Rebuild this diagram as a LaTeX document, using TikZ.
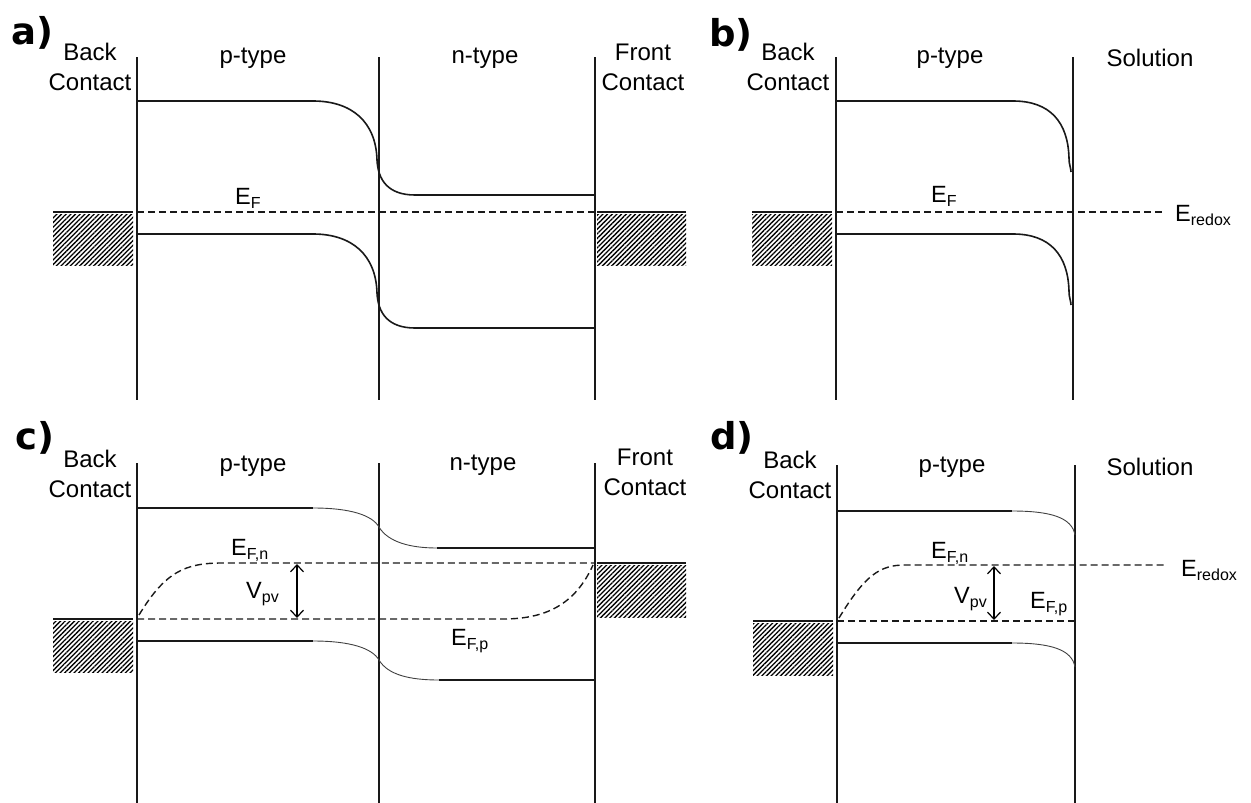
\documentclass[tikz,border=0pt]{standalone}
\usepackage{fontspec}
\setmainfont{Liberation Sans}
\newfontfamily\panelfont{DejaVu Sans}
\usetikzlibrary{positioning,arrows.meta,patterns.meta}

% lowered subscript for the level labels
\newcommand{\esub}[1]{\raisebox{-4pt}{\fontsize{16}{16}\selectfont #1}}

\tikzset{
    wallline/.style={line width=1.6pt, black!90},
    bandline/.style={line width=1.6pt, black!90},
    bandbend/.style={line width=0.9pt, black!75},
    fermiline/.style={line width=1.4pt, black!90, dash pattern=on 7pt off 4pt},
    metalbox/.style={pattern={Lines[angle=45,distance=3.3pt,line width=1.3pt]}},
    regionlbl/.style={font=\fontsize{24}{30}\selectfont, inner sep=0pt, anchor=base},
    levellbl/.style={font=\fontsize{23.5}{26}\selectfont, inner sep=0pt, anchor=base west},
    panellbl/.style={font=\panelfont\bfseries\fontsize{37}{37}\selectfont, inner sep=0pt, anchor=base west},
    vpvarrow/.style={{Straight Barb[length=7pt,width=13pt]}-{Straight Barb[length=7pt,width=13pt]}, line width=1.2pt},
}

\begin{document}
\begin{tikzpicture}[x=1pt, y=-1pt]
    \useasboundingbox (0,0) rectangle (1251,803);

    % a) p-n junction in the dark
    \node[panellbl] (pa) at (11,44) {a)};
    \node[regionlbl] (backa) at (90,60) {Back};
    \node[regionlbl] (backa2) at (90,90) {Contact};
    \node[regionlbl] (pa1) at (253,63) {p-type};
    \node[regionlbl] (na1) at (485,63) {n-type};
    \node[regionlbl] (fronta) at (643,60) {Front};
    \node[regionlbl] (fronta2) at (643,90) {Contact};

    \draw[wallline] (137,57) -- (137,400);
    \draw[wallline] (379,57) -- (379,400);
    \draw[wallline] (595,57) -- (595,400);

    % conduction and valence band
    \draw[bandline] (137,101) -- (313,101) .. controls (352,101) and (376,122) .. (377,160)
        .. controls (378,180) and (388,195) .. (415,195) -- (595,195);
    \draw[bandline] (137,234) -- (313,234) .. controls (352,234) and (376,255) .. (377,293)
        .. controls (378,313) and (388,328) .. (415,328) -- (595,328);

    \draw[fermiline] (137,212) -- (595,212);
    \node[levellbl] (efa) at (235,204) {E\esub{F}};

    % contacts
    \fill[metalbox] (53,214) rectangle (133,265);
    \draw[bandline] (53,212) -- (133,212);
    \fill[metalbox] (597,214) rectangle (686,265);
    \draw[bandline] (597,212) -- (686,212);

    % b) p-type electrode in solution
    \node[panellbl] (pb) at (709,46) {b)};
    \node[regionlbl] (backb) at (788,60) {Back};
    \node[regionlbl] (backb2) at (788,90) {Contact};
    \node[regionlbl] (pb1) at (950,63) {p-type};
    \node[regionlbl] (solb) at (1150,66) {Solution};

    \draw[wallline] (836,57) -- (836,400);
    \draw[wallline] (1073,57) -- (1073,400);

    \draw[bandline] (836,101) -- (1013,101) .. controls (1050,101) and (1068,122) .. (1069,158)
        .. controls (1069,165) and (1071,168) .. (1071,172);
    \draw[bandline] (836,234) -- (1013,234) .. controls (1050,234) and (1068,255) .. (1069,291)
        .. controls (1069,298) and (1071,301) .. (1071,305);

    \draw[fermiline] (836,212) -- (1165,212);
    \node[levellbl] (efb) at (931,202) {E\esub{F}};
    \node[levellbl] (redb) at (1175,221) {E\esub{redox}};

    \fill[metalbox] (752,214) rectangle (832,265);
    \draw[bandline] (752,212) -- (832,212);

    % c) p-n junction under illumination
    \node[panellbl] (pc) at (15,449) {c)};
    \node[regionlbl] (backc) at (90,467) {Back};
    \node[regionlbl] (backc2) at (90,497) {Contact};
    \node[regionlbl] (pc1) at (253,471) {p-type};
    \node[regionlbl] (nc1) at (483,470) {n-type};
    \node[regionlbl] (frontc) at (645,465) {Front};
    \node[regionlbl] (frontc2) at (645,495) {Contact};

    \draw[wallline] (137,463) -- (137,803);
    \draw[wallline] (379,463) -- (379,803);
    \draw[wallline] (595,463) -- (595,803);

    \draw[bandline] (137,508) -- (313,508);
    \draw[bandbend] (313,508) .. controls (350,508) and (372,515) .. (379,527)
        .. controls (388,542) and (410,548) .. (437,548);
    \draw[bandline] (437,548) -- (595,548);
    \draw[bandline] (137,641) -- (313,641);
    \draw[bandbend] (313,641) .. controls (350,641) and (372,648) .. (379,660)
        .. controls (388,675) and (410,680) .. (439,680);
    \draw[bandline] (439,680) -- (595,680);

    % quasi Fermi levels
    \draw[fermiline] (139,615) .. controls (165,572) and (185,563) .. (222,563) -- (595,563);
    \draw[fermiline] (137,619) -- (503,619) .. controls (545,619) and (575,605) .. (593,565);
    \node[levellbl] (efnc) at (231,555) {E\esub{F,n}};
    \node[levellbl] (efpc) at (451,645) {E\esub{F,p}};

    \coordinate (vtopc) at (297,564);
    \coordinate (vbotc) at (297,618);
    \draw[vpvarrow] (vtopc) -- (vbotc);
    \node[levellbl] (vpvc) at (246,598) {V\esub{pv}};

    \fill[metalbox] (53,621) rectangle (133,672);
    \draw[bandline] (53,619) -- (133,619);
    \fill[metalbox] (597,565) rectangle (686,617);
    \draw[bandline] (597,563) -- (686,563);

    % d) illuminated p-type electrode in solution
    \node[panellbl] (pd) at (710,449) {d)};
    \node[regionlbl] (backd) at (790,468) {Back};
    \node[regionlbl] (backd2) at (790,498) {Contact};
    \node[regionlbl] (pd1) at (952,472) {p-type};
    \node[regionlbl] (sold) at (1150,475) {Solution};

    \draw[wallline] (837,465) -- (837,803);
    \draw[wallline] (1075,465) -- (1075,803);

    \draw[bandline] (837,511) -- (1012,511);
    \draw[bandbend] (1012,511) .. controls (1052,511) and (1072,518) .. (1075,535);
    \draw[bandline] (837,643) -- (1012,643);
    \draw[bandbend] (1012,643) .. controls (1052,643) and (1072,650) .. (1075,667);

    \draw[fermiline] (839,618) .. controls (865,575) and (880,565) .. (905,565) -- (1167,565);
    \draw[fermiline] (837,621) -- (1075,621);
    \node[levellbl] (efnd) at (931,558) {E\esub{F,n}};
    \node[levellbl] (efpd) at (1030,608) {E\esub{F,p}};
    \node[levellbl] (redd) at (1181,576) {E\esub{redox}};

    \coordinate (vtopd) at (994,566);
    \coordinate (vbotd) at (994,620);
    \draw[vpvarrow] (vtopd) -- (vbotd);
    \node[levellbl] (vpvd) at (954,603) {V\esub{pv}};

    \fill[metalbox] (753,623) rectangle (833,675);
    \draw[bandline] (753,621) -- (833,621);
\end{tikzpicture}
\end{document}
